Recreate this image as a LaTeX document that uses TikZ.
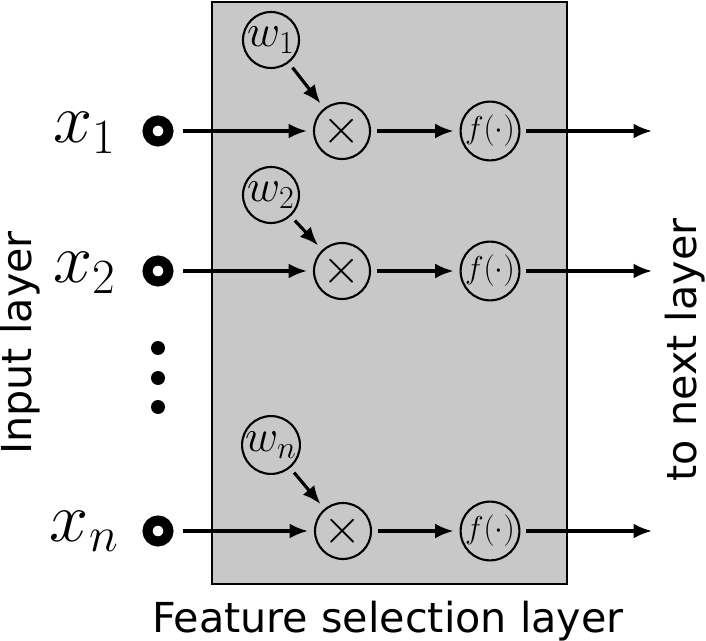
\RequirePackage{fix-cm}
\documentclass[tikz,border=0pt]{standalone}
\usepackage{fontspec}
\setsansfont{DejaVu Sans}
\usetikzlibrary{arrows.meta}
\definecolor{boxgray}{RGB}{200,200,200}

\begin{document}
\begin{tikzpicture}[x=0.02cm, y=-0.02cm,
    op/.style={draw, circle, line width=1.2pt, minimum size=1.12cm, inner sep=0pt, outer sep=0.14cm},
    opw/.style={op, font=\fontsize{26}{30}\selectfont},
    opx/.style={op, font=\fontsize{28}{32}\selectfont},
    opf/.style={op, font=\fontsize{18}{22}\selectfont},
    inring/.style={draw, circle, line width=0.2cm, minimum size=0.42cm, inner sep=0pt, outer sep=0.29cm},
    inlab/.style={anchor=base east, inner sep=0pt, font=\fontsize{40}{44}\selectfont},
    sig/.style={line width=1.8pt, -{Latex[length=10.5pt, width=8.5pt]}},
    lab/.style={inner sep=0pt, font=\sffamily\fontsize{23.5}{28}\selectfont}]

    \useasboundingbox (0,0) rectangle (706,641);

    % Feature selection box
    \draw[fill=boxgray, line width=1.3pt] (212,2) rectangle (567,584);

    % Row 1
    \node[inring] (in1) at (158,131) {};
    \node[inlab] (lx1) at (116,143) {$x_1$};
    \node[opw] (w1) at (271,40) {$w_1$};
    \node[opx] (m1) at (342,131) {$\times$};
    \node[opf] (f1) at (490,131) {$f(\cdot)$};
    \coordinate (o1) at (652,131);
    \draw[sig] (in1) -- (m1);
    \draw[sig] (w1) -- (m1);
    \draw[sig] (m1) -- (f1);
    \draw[sig] (f1) -- (o1);

    % Row 2
    \node[inring] (in2) at (158,271) {};
    \node[inlab] (lx2) at (116,283) {$x_2$};
    \node[opw] (w2) at (271,195) {$w_2$};
    \node[opx] (m2) at (342,271) {$\times$};
    \node[opf] (f2) at (490,271) {$f(\cdot)$};
    \coordinate (o2) at (652,271);
    \draw[sig] (in2) -- (m2);
    \draw[sig] (w2) -- (m2);
    \draw[sig] (m2) -- (f2);
    \draw[sig] (f2) -- (o2);

    % Dots
    \fill (158,348) circle (0.14cm);
    \fill (158,378) circle (0.14cm);
    \fill (158,407) circle (0.14cm);

    % Row n
    \node[inring] (inn) at (158,531) {};
    \node[inlab] (lxn) at (119,541) {$x_n$};
    \node[opw] (wn) at (271,445) {$w_n$};
    \node[opx] (mn) at (343,531) {$\times$};
    \node[opf] (fn) at (490,531) {$f(\cdot)$};
    \coordinate (on) at (652,531);
    \draw[sig] (inn) -- (mn);
    \draw[sig] (wn) -- (mn);
    \draw[sig] (mn) -- (fn);
    \draw[sig] (fn) -- (on);

    % Layer labels
    \node[lab, rotate=90] (inlayer) at (20,343) {Input layer};
    \node[lab, rotate=90] (nextlayer) at (685,350) {to next layer};
    \node[lab, anchor=base] (fslayer) at (388,632) {Feature selection layer};

\end{tikzpicture}
\end{document}
